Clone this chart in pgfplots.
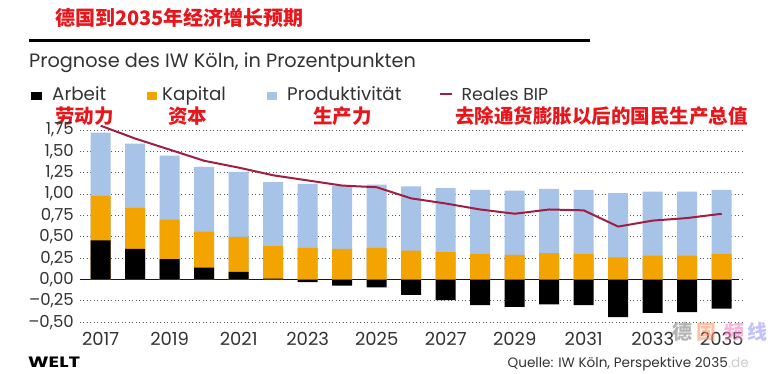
\documentclass[border=0pt]{standalone}
\usepackage{pgfplots}
\usepackage{pgfplotstable}
\pgfplotsset{compat=1.18}
\usepackage{fontspec}
\setmainfont{Poppins}
\newfontfamily\cjk{Noto Sans CJK SC}
\definecolor{cblue}{HTML}{A8C3E8}
\definecolor{corange}{HTML}{F3A400}
\definecolor{cline}{HTML}{A01E40}
\definecolor{cred}{HTML}{E8161B}
\definecolor{ctext}{HTML}{333333}
\pgfplotstableread{
year arbeit kapital produkt bip
2017 0.46 0.52 0.74 1.80
2018 0.36 0.48 0.75 1.65
2019 0.24 0.46 0.75 1.52
2020 0.14 0.42 0.76 1.39
2021 0.09 0.41 0.76 1.31
2022 0.01 0.38 0.75 1.22
2023 -0.03 0.37 0.75 1.16
2024 -0.07 0.36 0.74 1.10
2025 -0.09 0.37 0.74 1.08
2026 -0.18 0.34 0.75 0.95
2027 -0.24 0.32 0.75 0.89
2028 -0.30 0.30 0.75 0.82
2029 -0.32 0.29 0.75 0.77
2030 -0.29 0.31 0.75 0.82
2031 -0.30 0.30 0.75 0.81
2032 -0.44 0.26 0.75 0.62
2033 -0.39 0.28 0.75 0.69
2034 -0.38 0.28 0.75 0.72
2035 -0.34 0.30 0.75 0.77
}\data
\begin{document}
\begin{tikzpicture}[x=1pt,y=1pt]
\useasboundingbox (0,0) rectangle (780,373);
% title
\node[anchor=base west, inner sep=0, text=cred, font=\cjk\bfseries\fontsize{20}{22}\selectfont] at (55,347.5) {德国到2035年经济增长预期};
\draw[line width=2.7pt, black] (29,332.5) -- (590,332.5);
\node[anchor=base west, inner sep=0, text=ctext, font=\fontsize{19.3}{22}\selectfont] at (29,305.7) {Prognose des IW Köln, in Prozentpunkten};
% legend
\fill[black] (30.5,272.5) rectangle (41.5,281);
\node[anchor=base west, inner sep=0, text=ctext, font=\fontsize{18.3}{20}\selectfont] at (52,272.5) {Arbeit};
\fill[corange] (146.5,272.5) rectangle (156.5,281);
\node[anchor=base west, inner sep=0, text=ctext, font=\fontsize{18.3}{20}\selectfont] at (162,272.5) {Kapital};
\fill[cblue] (266.5,272.5) rectangle (277,281);
\node[anchor=base west, inner sep=0, text=ctext, font=\fontsize{18.3}{20}\selectfont] at (287,272.5) {Produktivität};
\draw[cline, line width=2pt] (440,278.5) -- (452,278.5);
\node[anchor=base west, inner sep=0, text=ctext, font=\fontsize{17.3}{20}\selectfont] at (461.5,272.5) {Reales BIP};
% chinese labels
\begin{scope}[every node/.style={anchor=base west, inner sep=0, text=cred, font=\cjk\bfseries\fontsize{19.5}{21}\selectfont}]
\node at (55,249.5) {劳动力};
\node at (168,249.5) {资本};
\node at (313,249.5) {生产力};
\node at (455,249.5) {去除通货膨胀以后的国民生产总值};
\end{scope}
\begin{axis}[
  at={(80pt,50.7pt)}, anchor=south west,
  scale only axis, width=661.7pt, height=192.3pt,
  xmin=2016.4, xmax=2035.58, ymin=-0.5, ymax=1.75,
  clip=false,
  axis line style={draw=none},
  tick style={draw=none},
  ybar, bar width=20pt, bar shift=0pt,
  ytick={-0.5,-0.25,0,0.25,0.5,0.75,1,1.25,1.5,1.75},
  yticklabels={{–0,50},{–0,25},{0,00},{0,25},{0,50},{0,75},{1,00},{1,25},{1,50},{1,75}},
  xtick={2017,2019,2021,2023,2025,2027,2029,2031,2033,2035},
  xticklabels={2017,2019,2021,2023,2025,2027,2029,2031,2033,2035},
  yticklabel style={anchor=east, inner sep=0pt, xshift=-6pt, text=ctext, font=\fontsize{16.5}{18}\selectfont},
  xticklabel style={anchor=north, inner sep=0pt, yshift=-5.5pt, text=ctext, font=\fontsize{18}{20}\selectfont},
  ymajorgrids,
  grid style={draw=gray!70!black, line width=0.9pt, dash pattern=on 0.9pt off 2.6pt},
]
\draw[black!90, line width=1.1pt] (axis cs:2016.4,0) -- (axis cs:2035.5,0);
\addplot[fill=cblue, draw=none] table[x=year, y expr={max(\thisrow{arbeit},0)+\thisrow{kapital}+\thisrow{produkt}}] {\data};
\addplot[fill=corange, draw=none] table[x=year, y expr={max(\thisrow{arbeit},0)+\thisrow{kapital}}] {\data};
\addplot[fill=black, draw=none] table[x=year, y=arbeit] {\data};
\addplot[sharp plot, cline, line width=2pt, mark=none] table[x=year, y=bip] {\data};
\end{axis}
% footer
\node[anchor=base west, inner sep=0, font=\bfseries\fontsize{15}{17}\selectfont] at (28,5.5) {\scalebox{1.3}[1]{WELT}};
\node[anchor=base east, inner sep=0, text=ctext, font=\fontsize{13.6}{16}\selectfont] at (728,5.5) {Quelle: IW Köln, Perspektive 2035};
\node[anchor=base west, inner sep=0, text=gray!40, font=\fontsize{13.6}{16}\selectfont] at (728,5.5) {.de};
% watermark
\begin{scope}[every node/.style={anchor=base west, inner sep=0, font=\cjk\bfseries\fontsize{20}{22}\selectfont, opacity=0.6}]
\node[text=gray] at (672,34) {德};
\node[text=orange!60!red!60] at (696,34) {国};
\node[text=magenta!50] at (724,34) {频};
\node[text=blue!40] at (747,34) {线};
\end{scope}
\end{tikzpicture}
\end{document}
